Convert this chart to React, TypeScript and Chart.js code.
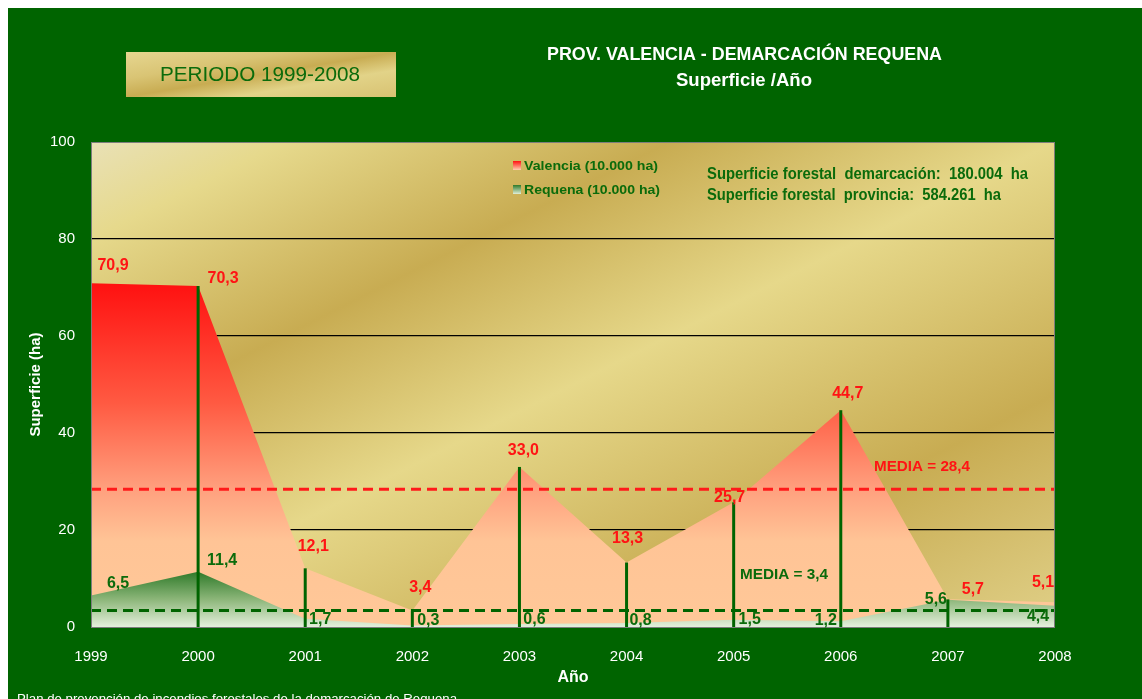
import React, { useEffect, useRef } from 'react';
import { Chart, registerables } from 'chart.js';

Chart.register(...registerables);

// ---------- DATA ----------
const years = ['1999', '2000', '2001', '2002', '2003', '2004', '2005', '2006', '2007', '2008'];
const valencia = [70.9, 70.3, 12.1, 3.4, 33.0, 13.3, 25.7, 44.7, 5.7, 5.1];
const requena = [6.5, 11.4, 1.7, 0.3, 0.6, 0.8, 1.5, 1.2, 5.6, 4.4];
const mediaValencia = 28.4;
const mediaRequena = 3.4;
const yTickValues = [0, 20, 40, 60, 80, 100];

// ---------- TEXT ----------
const titleLine1 = 'PROV. VALENCIA - DEMARCACIÓN REQUENA';
const titleLine2 = 'Superficie /Año';
const periodText = 'PERIODO 1999-2008';
const legendValencia = 'Valencia (10.000 ha)';
const legendRequena = 'Requena (10.000 ha)';
const infoLine1 = 'Superficie forestal  demarcación:  180.004  ha';
const infoLine2 = 'Superficie forestal  provincia:  584.261  ha';
const footerText = 'Plan de prevención de incendios forestales de la demarcación de Requena';

// ---------- STYLE ----------
const FONT = "'Liberation Sans', Arial, sans-serif";
const BG_GREEN = '#006400';
const LABEL_RED = '#ff1414';
const LABEL_GREEN = '#0b6b0b';
// label offsets (pixels) relative to each point
const valOffsets = [[22, -18], [25, -7], [8, -22], [8, -23], [4, -16], [1, -24], [-4, -5], [7, -17], [25, -10], [-12, -20]];
const reqOffsets = [[27, -12], [24, -11], [15, 1], [16, -5], [15, -4], [14, -3], [16, 0], [-15, -1], [-12, 0], [-17, 11]];

const fmt = (v: number) => v.toFixed(1).replace('.', ',');

function diagGradient(ctx: CanvasRenderingContext2D, left: number, top: number, w: number, h: number, stops: [number, string][]) {
  const k = (2 * w * h) / (w * w + h * h);
  const g = ctx.createLinearGradient(left, top, left + h * k, top + w * k);
  stops.forEach(([t, c]) => g.addColorStop(t, c));
  return g;
}

function fitText(ctx: CanvasRenderingContext2D, text: string, x: number, y: number, width: number, font: string, color: string, align: CanvasTextAlign = 'left', baseline: CanvasTextBaseline = 'middle') {
  ctx.save();
  ctx.font = font;
  const w = ctx.measureText(text).width;
  const s = width / w;
  ctx.translate(x, y);
  ctx.scale(s, 1);
  ctx.textAlign = align;
  ctx.textBaseline = baseline;
  ctx.fillStyle = color;
  ctx.fillText(text, 0, 0);
  ctx.restore();
}

const OFF = 8; // canvas is placed at (8,8) in the page

const decorPlugin = {
  id: 'decor',
  beforeDraw(chart: any) {
    const { ctx, chartArea: a } = chart;
    ctx.save();
    ctx.fillStyle = diagGradient(ctx, a.left, a.top, a.right - a.left, a.bottom - a.top, [
      [0, '#e9e1b6'], [0.1, '#e6d98c'], [0.3, '#c8ac52'], [0.5, '#e6d88a'], [0.76, '#c8ac52'], [1, '#e0d088'],
    ]);
    ctx.fillRect(a.left, a.top, a.right - a.left, a.bottom - a.top);
    ctx.restore();
  },
  afterDatasetsDraw(chart: any) {
    const { ctx, chartArea: a, scales } = chart;
    const xs = scales.x, ys = scales.y;
    ctx.save();
    // mean lines
    ctx.lineWidth = 3;
    ctx.setLineDash([10, 6]);
    ctx.strokeStyle = '#ff1a1a';
    let y = ys.getPixelForValue(mediaValencia);
    ctx.beginPath(); ctx.moveTo(a.left, y); ctx.lineTo(a.right, y); ctx.stroke();
    ctx.strokeStyle = BG_GREEN;
    y = ys.getPixelForValue(mediaRequena);
    ctx.beginPath(); ctx.moveTo(a.left, y); ctx.lineTo(a.right, y); ctx.stroke();
    ctx.setLineDash([]);
    // drop lines
    ctx.strokeStyle = BG_GREEN;
    ctx.lineWidth = 3;
    for (let i = 1; i < years.length - 1; i++) {
      const x = xs.getPixelForValue(i);
      const top = ys.getPixelForValue(Math.max(valencia[i], requena[i]));
      ctx.beginPath(); ctx.moveTo(x, ys.getPixelForValue(0)); ctx.lineTo(x, top); ctx.stroke();
    }
    // border
    ctx.strokeStyle = '#7d7d7d';
    ctx.lineWidth = 1;
    ctx.strokeRect(a.left + 0.5, a.top + 0.5, a.right - a.left - 1, a.bottom - a.top);
    // data labels
    ctx.font = `bold 16px ${FONT}`;
    ctx.textAlign = 'center';
    ctx.textBaseline = 'middle';
    valencia.forEach((v, i) => {
      const px = xs.getPixelForValue(i), py = ys.getPixelForValue(v);
      ctx.fillStyle = LABEL_RED;
      ctx.fillText(fmt(v), px + valOffsets[i][0], py + valOffsets[i][1]);
    });
    requena.forEach((v, i) => {
      const px = xs.getPixelForValue(i), py = ys.getPixelForValue(v);
      ctx.fillStyle = LABEL_GREEN;
      ctx.fillText(fmt(v), px + reqOffsets[i][0], py + reqOffsets[i][1]);
    });
    ctx.restore();
  },
  afterDraw(chart: any) {
    const { ctx } = chart;
    ctx.save();
    ctx.translate(-OFF, -OFF);
    // titles
    fitText(ctx, titleLine1, 744.5, 55, 395, `bold 18px ${FONT}`, '#ffffff', 'center');
    fitText(ctx, titleLine2, 744, 81, 136, `bold 18px ${FONT}`, '#ffffff', 'center');
    // period box
    ctx.fillStyle = diagGradient(ctx, 126, 52, 270, 45, [
      [0, '#e6d690'], [0.3, '#d9c474'], [0.5, '#c8ac52'], [0.7, '#e2d388'], [1, '#d8c272'],
    ]);
    ctx.fillRect(126, 52, 270, 45);
    fitText(ctx, periodText, 260, 75, 200, `20px ${FONT}`, '#0b6b0b', 'center');
    // legend
    let g = ctx.createLinearGradient(0, 161, 0, 170);
    g.addColorStop(0, '#ff1010'); g.addColorStop(1, '#ffd0b0');
    ctx.fillStyle = g; ctx.fillRect(513, 161, 8, 9);
    g = ctx.createLinearGradient(0, 185, 0, 194);
    g.addColorStop(0, '#2f7a2a'); g.addColorStop(1, '#e0eed8');
    ctx.fillStyle = g; ctx.fillRect(513, 185, 8, 9);
    fitText(ctx, legendValencia, 524, 166, 134, `bold 13px ${FONT}`, LABEL_GREEN);
    fitText(ctx, legendRequena, 524, 190, 136, `bold 13px ${FONT}`, LABEL_GREEN);
    // info
    fitText(ctx, infoLine1, 707, 175, 321, `bold 16px ${FONT}`, LABEL_GREEN);
    fitText(ctx, infoLine2, 707, 196, 294, `bold 16px ${FONT}`, LABEL_GREEN);
    // media labels
    fitText(ctx, 'MEDIA = 28,4', 874, 467, 96, `bold 15px ${FONT}`, LABEL_RED);
    fitText(ctx, 'MEDIA = 3,4', 740, 575, 88, `bold 15px ${FONT}`, LABEL_GREEN);
    // footer
    fitText(ctx, footerText, 17, 703, 440, `12px ${FONT}`, '#ffffff', 'left', 'alphabetic');
    ctx.restore();
  },
};

export default function App() {
  const ref = useRef<HTMLCanvasElement>(null);
  useEffect(() => {
    if (!ref.current) return;
    const areaGrad = (stops: [number, string][], topVal: number) => (c: any) => {
      const ch = c.chart;
      if (!ch.chartArea) return 'rgba(0,0,0,0)';
      const ys = ch.scales.y;
      const g = ch.ctx.createLinearGradient(0, ys.getPixelForValue(topVal), 0, ys.getPixelForValue(0));
      stops.forEach(([t, col]) => g.addColorStop(t, col));
      return g;
    };
    const chart = new Chart(ref.current, {
      type: 'line',
      data: {
        labels: years,
        datasets: [
          {
            label: legendRequena,
            data: requena,
            fill: 'origin',
            backgroundColor: areaGrad([[0, '#2f7a2a'], [0.5, '#8cb679'], [1, '#e4f0dc']], 11.4),
            borderColor: 'rgba(0,0,0,0)',
            borderWidth: 0,
            pointRadius: 0,
            tension: 0,
          },
          {
            label: legendValencia,
            data: valencia,
            fill: 'origin',
            backgroundColor: areaGrad([[0, '#ff1010'], [0.35, '#ff5a42'], [0.6, '#ffa07e'], [0.75, '#ffc496'], [1, '#ffc898']], 71),
            borderColor: 'rgba(0,0,0,0)',
            borderWidth: 0,
            pointRadius: 0,
            tension: 0,
          },
        ],
      },
      options: {
        animation: false,
        responsive: false,
        maintainAspectRatio: false,
        layout: { padding: { top: 134, right: 87, left: 0, bottom: 0 } },
        plugins: { legend: { display: false }, tooltip: { enabled: false }, title: { display: false } },
        scales: {
          x: {
            type: 'category',
            offset: false,
            grid: { display: false },
            border: { display: false },
            ticks: { color: '#ffffff', font: { family: FONT, size: 15 }, padding: 13, maxRotation: 0, autoSkip: false },
            title: { display: true, text: 'Año', color: '#ffffff', font: { family: FONT, size: 16, weight: 'bold' }, padding: { top: 0, bottom: 12 } },
            afterFit: (s: any) => { s.height = 72; },
          },
          y: {
            min: 0,
            max: 100,
            afterBuildTicks: (s: any) => { s.ticks = yTickValues.map((v) => ({ value: v })); },
            grid: {
              color: (c: any) => (c.tick && c.tick.value > 0 && c.tick.value < 100 ? '#000000' : 'rgba(0,0,0,0)'),
              lineWidth: 1.2,
              drawTicks: false,
            },
            border: { display: false },
            ticks: { color: '#ffffff', font: { family: FONT, size: 15 }, padding: 16 },
            title: { display: true, text: 'Superficie (ha)', color: '#ffffff', font: { family: FONT, size: 15, weight: 'bold' }, padding: { top: 19, bottom: 0 } },
            afterFit: (s: any) => { s.width = 83; },
          },
        },
      } as any,
      plugins: [decorPlugin],
    });
    return () => chart.destroy();
  }, []);
  return (
    <div style={{ position: 'fixed', left: 8, top: 8, width: 1134, height: 691, background: BG_GREEN }}>
      <canvas ref={ref} width={1134} height={691} style={{ display: 'block', width: 1134, height: 691 }} />
    </div>
  );
}
